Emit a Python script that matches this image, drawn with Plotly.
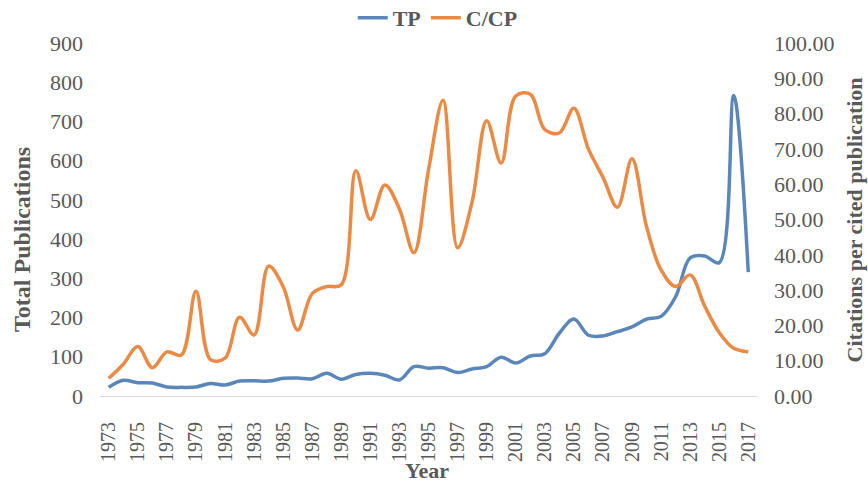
import plotly.graph_objects as go

years = list(range(1973, 2018))
tp = [22, 40, 34, 33, 23, 22, 23, 32, 28, 38, 39, 38, 45, 46, 44, 58, 43, 55, 58, 53,
      41, 75, 71, 72, 60, 69, 75, 99, 84, 102, 108, 160, 196, 155, 153, 164, 176, 196,
      203, 253, 352, 357, 340, 766, 316]
ccp = [5, 9, 14, 8, 12.5, 11.6, 29.7, 10.3, 10.7, 22.3, 17.3, 36.8, 31, 18.7, 29, 31,
       31.5, 63.8, 50, 59.8, 53, 40.6, 64, 83.8, 42, 55, 78, 66, 85, 85.5, 75.5, 74.5,
       81.5, 70, 62, 53.5, 67.2, 48, 35.7, 31, 34.3, 25.5, 18, 13.5, 12.5]
x_ticks = list(range(1973, 2018, 2))
left_ticks = list(range(0, 901, 100))
right_ticks = list(range(0, 101, 10))

FONT = "Liberation Serif"
GRAY = "#595959"
BLUE = "#5A86BA"
ORANGE = "#EA8A45"

fig = go.Figure()
fig.add_trace(go.Scatter(x=years, y=tp, name="TP", mode="lines",
                         line=dict(color=BLUE, width=3.5, shape="spline", smoothing=1),
                         yaxis="y"))
fig.add_trace(go.Scatter(x=years, y=ccp, name="C/CP", mode="lines",
                         line=dict(color=ORANGE, width=3.5, shape="spline", smoothing=1),
                         yaxis="y2"))

fig.update_layout(
    width=868, height=483,
    margin=dict(l=100, r=111, t=43, b=87, autoexpand=False),
    paper_bgcolor="white", plot_bgcolor="white",
    font=dict(family=FONT, color=GRAY, size=21),
    showlegend=True,
    legend=dict(orientation="h", x=0.514, xanchor="center", y=0.963, yanchor="middle",
                yref="container",
                font=dict(family=FONT, size=22, color=GRAY, weight="bold"),
                itemwidth=30, bgcolor="rgba(0,0,0,0)"),
    xaxis=dict(range=[1972.4, 2017.6], tickvals=x_ticks, ticktext=[str(v) for v in x_ticks],
               tickangle=-90, showgrid=False, zeroline=False, automargin=False,
               showline=True, linecolor="#D9D9D9", linewidth=1,
               ticks="", ticklabelstandoff=17,
               tickfont=dict(family=FONT, size=20, color=GRAY)),
    yaxis=dict(range=[0, 900], tickvals=left_ticks, showgrid=False, zeroline=False,
               showline=False, ticks="", ticklabelstandoff=16, automargin=False,
               tickfont=dict(family=FONT, size=22, color=GRAY)),
    yaxis2=dict(range=[0, 100], tickvals=right_ticks,
                ticktext=[f"{v:.2f}" for v in right_ticks],
                overlaying="y", side="right", showgrid=False, zeroline=False,
                showline=False, ticks="", ticklabelstandoff=16, automargin=False,
                tickfont=dict(family=FONT, size=22, color=GRAY)),
    annotations=[
        dict(text="<b>Total Publications</b>", xref="paper", yref="paper",
             x=-0.1187, y=0.442, xanchor="center", yanchor="middle", textangle=-90,
             showarrow=False, font=dict(family=FONT, size=24, color=GRAY)),
        dict(text="<b>Citations per cited publication</b>", xref="paper", yref="paper",
             x=1.149, y=0.5, xanchor="center", yanchor="middle", textangle=-90,
             showarrow=False, font=dict(family=FONT, size=22, color=GRAY)),
        dict(text="<b>Year</b>", xref="paper", yref="paper",
             x=0.498, y=-0.212, xanchor="center", yanchor="middle",
             showarrow=False, font=dict(family=FONT, size=22, color=GRAY)),
    ],
)

fig.write_html("out.html", config={"displayModeBar": False},
               post_script="document.body.style.margin='0';")
